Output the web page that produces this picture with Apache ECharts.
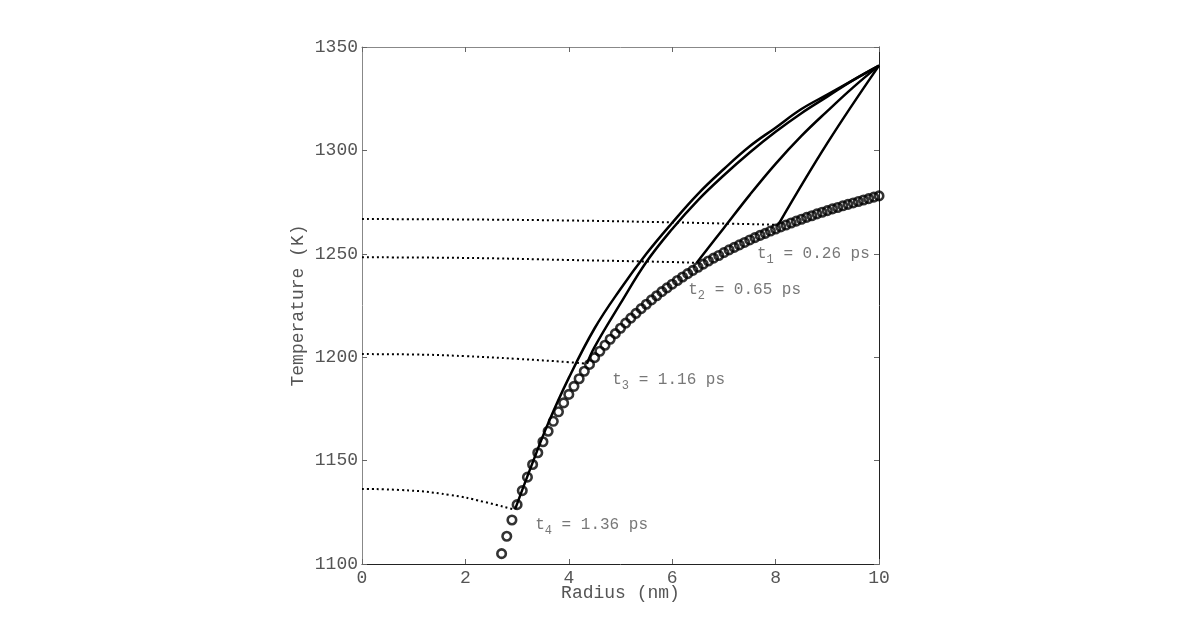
<!DOCTYPE html>
<html>
<head>
<meta charset="utf-8">
<script src="https://cdn.jsdelivr.net/npm/echarts@6/dist/echarts.min.js"></script>
<style>
  html, body { margin: 0; padding: 0; background: #fff; }
  #main { width: 1200px; height: 634px; }
</style>
</head>
<body>
<div id="main"></div>
<script>
// melting curve (circles)
var circleR = [2.7, 2.8, 2.9, 3.0, 3.1, 3.2, 3.3, 3.4, 3.5, 3.6, 3.7, 3.8, 3.9, 4.0,
  4.1, 4.2, 4.3, 4.4, 4.5, 4.6, 4.7, 4.8, 4.9, 5.0, 5.1, 5.2, 5.3, 5.4, 5.5, 5.6,
  5.7, 5.8, 5.9, 6.0, 6.1, 6.2, 6.3, 6.4, 6.5, 6.6, 6.7, 6.8, 6.9, 7.0, 7.1, 7.2,
  7.3, 7.4, 7.5, 7.6, 7.7, 7.8, 7.9, 8.0, 8.1, 8.2, 8.3, 8.4, 8.5, 8.6, 8.7, 8.8,
  8.9, 9.0, 9.1, 9.2, 9.3, 9.4, 9.5, 9.6, 9.7, 9.8, 9.9, 10.0];
var circleT = [1105.0, 1113.4, 1121.3, 1128.7, 1135.5, 1142.0, 1148.1, 1153.8, 1159.1, 1164.2,
  1169.0, 1173.6, 1177.9, 1182.0, 1185.9, 1189.6, 1193.2, 1196.5, 1199.8, 1202.9,
  1205.8, 1208.7, 1211.4, 1214.0, 1216.5, 1218.9, 1221.2, 1223.5, 1225.6, 1227.7,
  1229.7, 1231.7, 1233.5, 1235.3, 1237.1, 1238.8, 1240.4, 1242.0, 1243.5, 1245.0,
  1246.5, 1247.9, 1249.2, 1250.6, 1251.9, 1253.1, 1254.3, 1255.5, 1256.7, 1257.8,
  1258.9, 1259.9, 1261.0, 1262.0, 1263.0, 1263.9, 1264.9, 1265.8, 1266.7, 1267.6,
  1268.4, 1269.3, 1270.1, 1270.9, 1271.7, 1272.4, 1273.2, 1273.9, 1274.6, 1275.3,
  1276.0, 1276.7, 1277.4, 1278.0];

// dotted profiles (inner region)
var dot1 = [[0, 1266.8], [2, 1266.6], [4, 1266.1], [6, 1265.2], [8.05, 1264.0]];
var dot2 = [[0, 1248.3], [2, 1248.0], [4, 1247.0], [6, 1246.0], [6.47, 1245.6]];
var dot3 = [[0, 1201.5], [1, 1201.3], [2, 1200.5], [3, 1199.2], [4, 1197.6], [4.35, 1196.8]];
var dot4 = [[0, 1136.3], [0.74, 1135.8], [1.7, 1133.4], [2.35, 1130.1], [2.93, 1126.4]];

// solid profiles (outer region)
var solid1 = [[8.05, 1264.0], [9.0, 1303.5], [10, 1341]];
var solid2 = [[6.47, 1245.6], [7.0, 1262.5], [7.5, 1278.5], [8.0, 1293.5], [8.5, 1307],
  [9.0, 1319], [9.5, 1330.5], [10, 1341]];
var solid3 = [[4.35, 1196.8], [4.5, 1205], [5.0, 1226], [5.5, 1246], [6.0, 1262], [6.5, 1276],
  [7.0, 1288], [7.5, 1299], [8.0, 1309], [8.5, 1318], [9.0, 1326], [9.5, 1334], [10, 1341]];
var solid4 = [[2.96, 1126.4], [3.3, 1149], [3.6, 1168], [4.0, 1190], [4.5, 1214], [5.0, 1233],
  [5.5, 1250], [6.0, 1265], [6.5, 1279], [7.0, 1291], [7.5, 1302], [8.0, 1311], [8.5, 1320],
  [9.0, 1327], [9.5, 1334], [10, 1341]];

var labelSub = ['1', '2', '3', '4'];
var labelTime = ['0.26', '0.65', '1.16', '1.36'];
var labelAt = [[7.64, 1250], [6.31, 1232.5], [4.84, 1189], [3.35, 1119]];

var FONT = '"Liberation Mono", "DejaVu Sans Mono", monospace';
var chart = echarts.init(document.getElementById('main'));

function axisBase(pos, showLabel) {
  return {
    type: 'value',
    position: pos,
    axisLine: { show: true, onZero: false, lineStyle: { color: (pos === 'bottom' || pos === 'right') ? '#222' : '#888', width: 1 } },
    axisTick: { show: true, inside: true, length: 5, lineStyle: { color: '#666' } },
    axisLabel: { show: showLabel, fontFamily: FONT, fontSize: 18, color: '#555',
      formatter: function (v) { return String(v); } },
    splitLine: { show: false }
  };
}

var xBottom = axisBase('bottom', true);
xBottom.min = 0; xBottom.max = 10; xBottom.interval = 2;
xBottom.axisLabel.margin = 5;
xBottom.name = 'Radius (nm)';
xBottom.nameLocation = 'middle';
xBottom.nameGap = 20;
xBottom.nameMoveOverlap = false;
xBottom.nameTextStyle = { fontFamily: FONT, fontSize: 18, color: '#555' };
var xTop = axisBase('top', false);
xTop.min = 0; xTop.max = 10; xTop.interval = 2;

var yLeft = axisBase('left', true);
yLeft.min = 1100; yLeft.max = 1350; yLeft.interval = 50;
yLeft.axisLabel.margin = 4;
yLeft.name = 'Temperature (K)';
yLeft.nameLocation = 'middle';
yLeft.nameGap = 55;
yLeft.nameMoveOverlap = false;
yLeft.nameTextStyle = { fontFamily: FONT, fontSize: 18, color: '#555' };
var yRight = axisBase('right', false);
yRight.min = 1100; yRight.max = 1350; yRight.interval = 50;

function dotted(d) {
  return { type: 'line', data: d, smooth: true, symbol: 'none', silent: true,
    lineStyle: { color: '#000', width: 2, type: [2, 3] } };
}
function solid(d) {
  return { type: 'line', data: d, smooth: 0.4, symbol: 'none', silent: true,
    lineStyle: { color: '#000', width: 2.5 } };
}

var circles = circleR.map(function (r, i) { return [r, circleT[i]]; });
var labels = labelAt.map(function (p, i) {
  return { value: p, label: { formatter: 't{s|' + labelSub[i] + '} = ' + labelTime[i] + ' ps' } };
});

var option = {
  animation: false,
  backgroundColor: '#fff',
  grid: { left: 362, top: 47, width: 517, height: 517, containLabel: false },
  xAxis: [xBottom, xTop],
  yAxis: [yLeft, yRight],
  series: [
    dotted(dot1), dotted(dot2), dotted(dot3), dotted(dot4),
    solid(solid1), solid(solid2), solid(solid3), solid(solid4),
    {
      type: 'scatter', data: circles, symbol: 'circle', symbolSize: 8.5,
      itemStyle: { color: 'rgba(0,0,0,0)', borderColor: '#000', borderWidth: 2.6 }
    },
    {
      type: 'scatter', data: labels, symbolSize: 0, silent: true,
      label: {
        show: true, position: 'right', distance: 0,
        fontFamily: FONT, fontSize: 16, color: '#555',
        rich: { s: { fontFamily: FONT, fontSize: 12, color: '#555', padding: [12, 0, 0, 0] } }
      }
    }
  ]
};

chart.setOption(option);
</script>
</body>
</html>
